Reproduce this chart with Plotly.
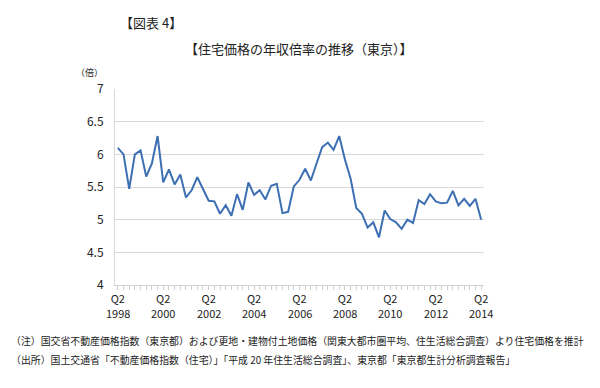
import plotly.graph_objects as go

quarters = [f"{y}Q{q}" for y in range(1998, 2015) for q in range(1, 5)]
quarters = quarters[1:quarters.index("2014Q2") + 1]

ratio = [6.10, 6.00, 5.47, 6.00, 6.06, 5.66, 5.86, 6.28, 5.57, 5.77,
         5.54, 5.69, 5.34, 5.45, 5.65, 5.47, 5.29, 5.28, 5.09, 5.22,
         5.06, 5.39, 5.15, 5.57, 5.38, 5.45, 5.31, 5.52, 5.55, 5.10,
         5.12, 5.51, 5.61, 5.78, 5.60, 5.86, 6.11, 6.18, 6.07, 6.28,
         5.92, 5.63, 5.18, 5.09, 4.88, 4.96, 4.73, 5.14, 5.01, 4.96,
         4.86, 5.00, 4.95, 5.30, 5.24, 5.39, 5.28, 5.25, 5.26, 5.44,
         5.22, 5.32, 5.21, 5.32, 5.00]

major_idx = [i for i, q in enumerate(quarters) if q.endswith("Q2") and int(q[:4]) % 2 == 0]
major_quarter = ["Q2" for i in major_idx]
major_year = [quarters[i][:4] for i in major_idx]
y_ticks = [4, 4.5, 5, 5.5, 6, 6.5, 7]

title_text = "【住宅価格の年収倍率の推移（東京）】"
fig_label = "【図表 4】"
unit_label = "（倍）"
note1 = "（注）国交省不動産価格指数（東京都）および更地・建物付土地価格（関東大都市圏平均、住生活総合調査）より住宅価格を推計"
note2 = "（出所）国土交通省「不動産価格指数（住宅）」「平成 20 年住生活総合調査」、東京都「東京都生計分析調査報告」"

FONT = "Noto Sans CJK JP"

# page body has an 8px margin; plot area target on screen: x 115..484, y 89..285
PX0, PX1, PY0, PY1 = 115, 484, 89, 285
OFF = 8


def px(sx):
    return (sx - PX0) / (PX1 - PX0)


def py(sy):
    return (PY1 - sy) / (PY1 - PY0)


fig = go.Figure()
fig.add_trace(go.Scatter(
    x=list(range(len(quarters))), y=ratio, mode="lines",
    line=dict(color="#3d6fb3", width=2),
    showlegend=False, hoverinfo="skip",
))

fig.update_layout(
    width=600, height=388,
    margin=dict(l=PX0 - OFF, r=600 + OFF - PX1, t=PY0 - OFF, b=388 + OFF - PY1),
    paper_bgcolor="white", plot_bgcolor="white",
    font=dict(family=FONT, color="#222222", size=11),
)
fig.update_xaxes(
    range=[-0.5, len(quarters) - 0.5],
    tickmode="array", tickvals=major_idx, ticktext=major_quarter,
    ticks="outside", ticklen=4, tickcolor="#d0d0d0",
    minor=dict(tick0=0, dtick=1, ticks="outside", ticklen=4, tickcolor="#d0d0d0", showgrid=False),
    showline=True, linecolor="#d0d0d0", linewidth=1,
    showgrid=False, zeroline=False, tickangle=0,
    tickfont=dict(size=11, family=FONT),
)
fig.update_yaxes(
    range=[4, 7], tickvals=y_ticks, ticktext=[f"{v:g}" for v in y_ticks],
    showgrid=True, gridcolor="#d9d9d9", gridwidth=1,
    showline=True, linecolor="#d9d9d9", zeroline=False,
    ticks="", ticklabelstandoff=8,
    tickfont=dict(size=12, family=FONT),
)

for i, yr in zip(major_idx, major_year):
    fig.add_annotation(text=yr, xref="x", yref="paper", x=i, y=py(313),
                       showarrow=False, xanchor="center", yanchor="middle",
                       font=dict(size=11, family=FONT))

fig.add_annotation(text=fig_label, xref="paper", yref="paper", x=px(118), y=py(22),
                   showarrow=False, xanchor="left", yanchor="middle", font=dict(size=13, family=FONT))
fig.add_annotation(text=title_text, xref="paper", yref="paper", x=px(299), y=py(48),
                   showarrow=False, xanchor="center", yanchor="middle", font=dict(size=13, family=FONT))
fig.add_annotation(text=unit_label, xref="paper", yref="paper", x=px(105), y=py(73),
                   showarrow=False, xanchor="right", yanchor="middle", font=dict(size=9, family=FONT))
fig.add_annotation(text=note1, xref="paper", yref="paper", x=px(9), y=py(341),
                   showarrow=False, xanchor="left", yanchor="middle", font=dict(size=9.9, family=FONT))
fig.add_annotation(text=note2, xref="paper", yref="paper", x=px(9), y=py(360),
                   showarrow=False, xanchor="left", yanchor="middle", font=dict(size=9.9, family=FONT))

fig.write_html("out.html")
